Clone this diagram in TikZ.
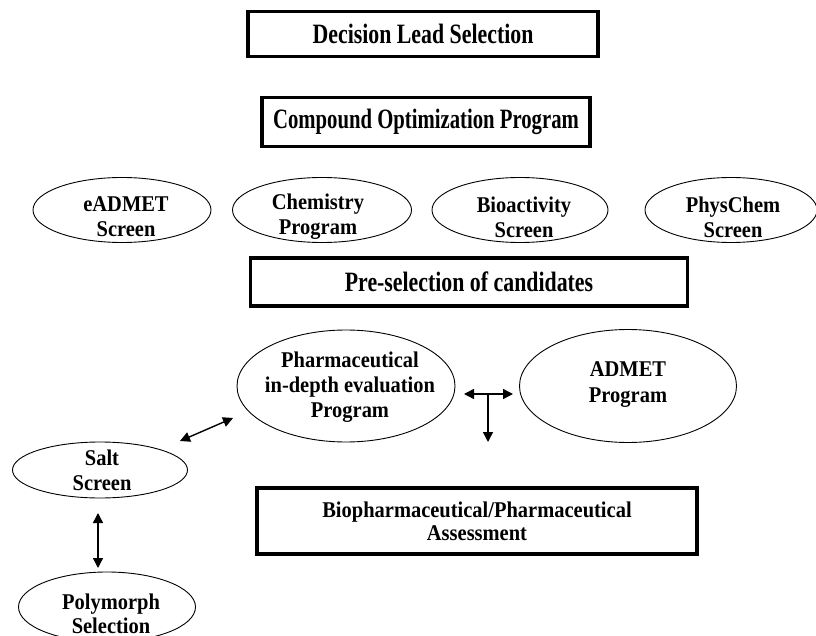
\documentclass[tikz,border=0pt]{standalone}
\usepackage{fontspec}
\setmainfont{Liberation Serif}
\newfontfamily\bigcond[FakeStretch=0.78]{Liberation Serif}
\newfontfamily\bigcondx[FakeStretch=0.74]{Liberation Serif}
\newfontfamily\midcond[FakeStretch=0.91]{Liberation Serif}
\usetikzlibrary{arrows.meta,shapes.geometric,calc}
\begin{document}
\begin{tikzpicture}[x=1pt,y=-1pt,
  box/.style={draw,line width=3.6pt,inner sep=0pt,font=\bigcond\bfseries\fontsize{28}{30}\selectfont,align=center},
  boxsm/.style={box,font=\midcond\bfseries\fontsize{22.5}{23}\selectfont},
  oval/.style={draw,ellipse,line width=0.9pt,inner sep=0pt},
  lbl/.style={font=\midcond\bfseries\fontsize{22.5}{25}\selectfont,align=center,inner sep=0pt},
  arr/.style={line width=1.4pt,{Triangle[length=10pt,width=10pt]}-{Triangle[length=10pt,width=10pt]}},
  arrone/.style={line width=1.4pt,-{Triangle[length=10pt,width=10pt]}},
  ]
\useasboundingbox (0,0) rectangle (816,636);
\fill[white] (0,0) rectangle (816,636);

% boxes
\node[box,minimum width=350pt,minimum height=45pt] (dls) at (423,34) {Decision Lead Selection};
\node[box,font=\bigcondx\bfseries\fontsize{28}{30}\selectfont,minimum width=328pt,minimum height=49pt] (cop) at (426,122) {Compound Optimization Program};
\node[box,minimum width=437pt,minimum height=48pt] (pre) at (469,282) {Pre-selection of candidates};
\node[boxsm,minimum width=440pt,minimum height=66pt] (bio) at (477,521) {Biopharmaceutical/Pharmaceutical\\Assessment};

% ellipse row
\node[oval,minimum width=178pt,minimum height=65pt] (ead) at (122,210) {};
\node[lbl] (eadt) at (126,217) {eADMET\\Screen};
\node[oval,minimum width=179pt,minimum height=65pt] (chem) at (322,210) {};
\node[lbl] (chemt) at (318,217) {Chemistry\\Program};
\node[oval,minimum width=176pt,minimum height=65pt] (bioa) at (520,210) {};
\node[lbl] (bioat) at (524,217) {Bioactivity\\Screen};
\node[oval,minimum width=172pt,minimum height=65pt] (phys) at (731,210) {};
\node[lbl] (physt) at (733,217) {PhysChem\\Screen};

% lower ellipses
\node[oval,minimum width=218pt,minimum height=112pt] (pharm) at (346,386) {};
\node[lbl] (pharmt) at (350,387) {Pharmaceutical\\in-depth evaluation\\Program};
\node[oval,minimum width=217pt,minimum height=113pt] (admet) at (628,386) {};
\node[lbl,font=\midcond\bfseries\fontsize{22.5}{26}\selectfont] (admett) at (628,385) {ADMET\\Program};
\node[oval,minimum width=175pt,minimum height=56pt] (salt) at (100,470) {};
\node[lbl] (saltt) at (102,470) {Salt\\Screen};
\node[oval,minimum width=177pt,minimum height=70pt] (poly) at (107,607) {};
\node[lbl,font=\midcond\bfseries\fontsize{22.5}{24}\selectfont] (polyt) at (111,614) {Polymorph\\Selection};

% connector end points
\coordinate (tl) at (464,394);
\coordinate (tr) at (513,394);
\coordinate (tm) at (488,394);
\coordinate (tb) at (488,442);
\coordinate (sp1) at (180,441);
\coordinate (sp2) at (233,418);
\coordinate (sv1) at (98,513);
\coordinate (sv2) at (98,568);

\draw[arr] (tl) -- (tr);
\draw[arrone] (tm) -- (tb);
\draw[arr] (sp1) -- (sp2);
\draw[arr] (sv1) -- (sv2);
\end{tikzpicture}
\end{document}
